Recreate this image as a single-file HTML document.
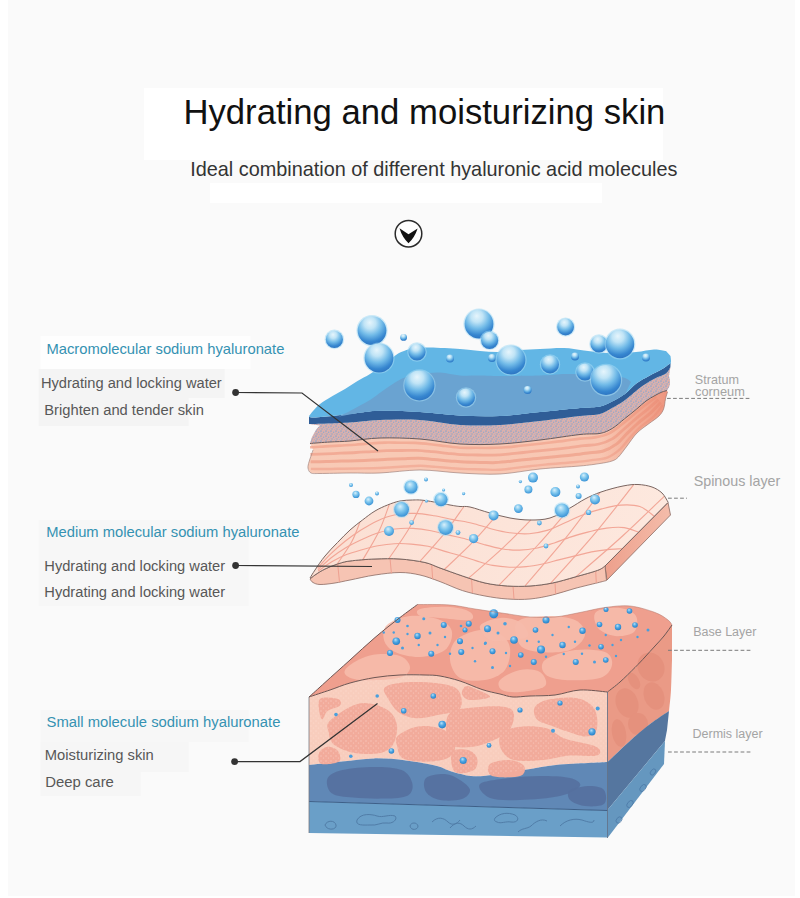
<!DOCTYPE html>
<html><head><meta charset="utf-8"><style>
html,body{margin:0;padding:0;background:#fafafa;}
body{width:800px;height:898px;overflow:hidden;position:relative;font-family:"Liberation Sans",sans-serif;}
svg{position:absolute;left:0;top:0;}
</style></head><body>
<svg width="800" height="898" viewBox="0 0 800 898" font-family="Liberation Sans, sans-serif">
<defs>
<radialGradient id="gb" cx="0.45" cy="0.28" r="0.82" fx="0.42" fy="0.22">
<stop offset="0" stop-color="#e6f5fc"/><stop offset="0.25" stop-color="#c0e4f6"/><stop offset="0.5" stop-color="#72bbe8"/><stop offset="0.75" stop-color="#3787d0"/><stop offset="1" stop-color="#2668b8"/>
</radialGradient>
<radialGradient id="gs" cx="0.45" cy="0.38" r="0.62" fx="0.4" fy="0.3">
<stop offset="0" stop-color="#d8f0fb"/><stop offset="0.5" stop-color="#7cc5ed"/><stop offset="1" stop-color="#3892d6"/>
</radialGradient>
<radialGradient id="gd" cx="0.45" cy="0.4" r="0.6" fx="0.4" fy="0.3">
<stop offset="0" stop-color="#b8e2f8"/><stop offset="0.5" stop-color="#4fa6e2"/><stop offset="1" stop-color="#2580c8"/>
</radialGradient>
<pattern id="dotP" width="5" height="5" patternUnits="userSpaceOnUse">
<circle cx="1" cy="1" r="0.7" fill="#fbe4da"/><circle cx="3.5" cy="3" r="0.6" fill="#fbe4da"/>
</pattern>
<linearGradient id="peachG" x1="0" y1="0" x2="1" y2="0">
<stop offset="0" stop-color="#f8cab6"/><stop offset="1" stop-color="#f8c6b2"/>
</linearGradient>
<linearGradient id="topG2" x1="0" y1="0" x2="1" y2="0">
<stop offset="0" stop-color="#fbdfd3"/><stop offset="1" stop-color="#fde8de"/>
</linearGradient>
<linearGradient id="sideG2" x1="0" y1="0" x2="1" y2="0">
<stop offset="0" stop-color="#eda08c"/><stop offset="1" stop-color="#f4bcaa"/>
</linearGradient>
<pattern id="speckP" width="5" height="5" patternUnits="userSpaceOnUse">
<circle cx="1" cy="1" r="0.85" fill="#8aa4cc"/><circle cx="3.6" cy="2.2" r="0.75" fill="#93a8cc"/><circle cx="2" cy="4" r="0.7" fill="#86a0c8"/><circle cx="4.4" cy="4.5" r="0.55" fill="#9fb0d0"/><circle cx="0.2" cy="3" r="0.5" fill="#a0b0cf"/>
</pattern>
<linearGradient id="peachR" x1="300" y1="0" x2="675" y2="0" gradientUnits="userSpaceOnUse">
<stop offset="0" stop-color="#ec8a70" stop-opacity="0"/><stop offset="0.8" stop-color="#ec8a70" stop-opacity="0"/><stop offset="0.9" stop-color="#ec8a70" stop-opacity="0.45"/><stop offset="1" stop-color="#e8806a" stop-opacity="0.8"/>
</linearGradient>
</defs>
<rect x="0" y="0" width="8" height="898" fill="#ffffff"/>
<rect x="795" y="0" width="5" height="898" fill="#ffffff"/>
<rect x="0" y="896" width="800" height="2" fill="#ffffff"/>
<rect x="144" y="88" width="519" height="72" fill="#ffffff"/>
<rect x="210" y="183" width="392" height="20" fill="#ffffff"/>
<rect x="40.6" y="336" width="210" height="33" fill="#fefefe"/>
<rect x="38.7" y="369" width="186" height="29" fill="#f4f4f4"/>
<rect x="38.7" y="398" width="150" height="28" fill="#f4f4f4"/>
<rect x="38.7" y="520" width="210" height="86" fill="#f7f7f7"/>
<rect x="40.6" y="710" width="208" height="32" fill="#f7f7f7"/>
<rect x="40.6" y="742" width="148" height="30" fill="#f6f6f6"/>
<rect x="40.6" y="772" width="100" height="24" fill="#f6f6f6"/>
<text x="183.4" y="123.6" font-size="34.7" fill="#111">Hydrating and moisturizing skin</text>
<text x="190.2" y="175.8" font-size="19.85" fill="#333">Ideal combination of different hyaluronic acid molecules</text>
<g>
<circle cx="408.5" cy="233.7" r="13.3" fill="#fdfdfd" stroke="#2a2a2a" stroke-width="1.5"/>
<path d="M399.5,228.2 L408.5,234.2 L417.6,228.4 Q414.8,237.2 408.5,243.2 Q402.2,237.2 399.5,228.2 Z" fill="#111"/>
</g>
<g>
<text x="46.4" y="354.3" font-size="14.78" fill="#3592b2">Macromolecular sodium hyaluronate</text>
<text x="40.9" y="387.6" font-size="14.67" fill="#585858">Hydrating and locking water</text>
<text x="44.3" y="414.7" font-size="14.72" fill="#585858">Brighten and tender skin</text>
<text x="46.2" y="537.3" font-size="14.76" fill="#3592b2">Medium molecular sodium hyaluronate</text>
<text x="44.3" y="570.8" font-size="14.67" fill="#585858">Hydrating and locking water</text>
<text x="44.3" y="596.8" font-size="14.67" fill="#585858">Hydrating and locking water</text>
<text x="46.6" y="727" font-size="14.82" fill="#3592b2">Small molecule sodium hyaluronate</text>
<text x="44.8" y="760" font-size="14.76" fill="#585858">Moisturizing skin</text>
<text x="45.2" y="787.2" font-size="14.9" fill="#585858">Deep care</text>
</g>
<g fill="#a4a4a4">
<text x="694.8" y="384.4" font-size="12.6">Stratum</text>
<text x="695.1" y="396.4" font-size="12.8">corneum</text>
<text x="693.7" y="486" font-size="14.3">Spinous layer</text>
<text x="693.2" y="635.6" font-size="12.5">Base Layer</text>
<text x="692.5" y="737.6" font-size="12.5">Dermis layer</text>
</g>
<path d="M310.0,443.5 C310.5,444.6 312.8,447.9 313.0,450.0 C313.2,452.1 311.7,454.0 311.0,456.0 C310.3,458.0 309.5,460.0 309.0,462.0 C308.5,464.0 307.7,466.2 308.0,468.0 C308.3,469.8 310.5,472.2 311.0,473.0 L320.0,473.5 C325.0,473.4 340.0,473.1 350.0,473.0 C360.0,472.9 368.3,473.5 380.0,473.0 C391.7,472.5 406.7,470.0 420.0,470.0 C433.3,470.0 446.7,472.3 460.0,473.0 C473.3,473.7 486.7,474.7 500.0,474.0 C513.3,473.3 526.7,470.3 540.0,469.0 C553.3,467.7 570.0,466.9 580.0,466.0 C590.0,465.1 594.7,464.3 600.0,463.5 C605.3,462.7 608.9,462.1 612.0,461.0 C615.1,459.9 615.9,459.5 618.4,457.0 C620.9,454.5 623.9,450.0 627.0,446.0 C630.1,442.0 633.3,436.7 637.0,433.0 C640.7,429.3 645.3,426.4 649.0,423.6 C652.7,420.8 656.6,418.4 659.0,416.0 C661.4,413.6 662.5,411.8 663.6,409.0 C664.7,406.2 664.9,401.8 665.5,399.0 C666.1,396.2 667.2,393.2 667.5,392.0 L667.0,390.5 C666.2,390.8 664.0,391.2 662.0,392.0 C660.0,392.8 657.7,394.0 655.0,395.5 C652.3,397.0 649.0,398.8 646.0,401.0 C643.0,403.2 640.3,406.0 636.7,409.0 C633.1,412.0 628.6,415.6 624.5,418.8 C620.4,422.1 616.3,426.1 612.2,428.5 C608.1,430.9 605.4,432.4 600.0,433.4 C594.6,434.4 590.0,433.4 580.0,434.5 C570.0,435.6 553.3,438.4 540.0,440.0 C526.7,441.6 513.3,443.3 500.0,444.0 C486.7,444.7 473.3,444.8 460.0,444.0 C446.7,443.2 433.3,440.0 420.0,439.0 C406.7,438.0 391.7,437.7 380.0,438.0 C368.3,438.3 358.3,440.3 350.0,441.0 C341.7,441.7 336.7,441.6 330.0,442.0 C323.3,442.4 313.3,443.2 310.0,443.5 Z" fill="url(#peachG)"/>
<path d="M310.1,447.3 C312.6,447.2 320.1,446.7 325.1,446.4 C330.2,446.1 335.2,445.9 340.2,445.6 C345.2,445.3 350.2,445.1 355.2,444.7 C360.2,444.4 365.2,443.8 370.2,443.5 C375.2,443.1 380.2,442.7 385.2,442.6 C390.2,442.4 395.2,442.7 400.2,442.7 C405.3,442.8 410.3,442.7 415.3,442.9 C420.3,443.2 425.3,443.7 430.3,444.2 C435.3,444.7 440.2,445.4 445.2,446.0 C450.2,446.6 455.2,447.4 460.2,447.7 C465.2,448.0 470.2,447.8 475.2,447.8 C480.2,447.9 485.3,448.0 490.3,447.9 C495.3,447.8 500.3,447.7 505.3,447.3 C510.3,447.0 515.3,446.3 520.3,445.8 C525.3,445.3 530.3,444.8 535.3,444.3 C540.3,443.7 545.2,443.2 550.2,442.5 C555.2,441.9 560.2,441.3 565.2,440.6 C570.1,440.0 575.1,439.1 580.1,438.6 C585.1,438.1 590.2,438.3 595.1,437.4 C599.9,436.5 604.8,435.4 609.2,433.3 C613.5,431.2 617.4,427.8 621.3,424.8 C625.3,421.8 629.0,418.4 632.9,415.2 C636.7,412.0 640.6,408.7 644.5,405.6 C648.4,402.6 654.5,398.3 656.4,396.8" fill="none" stroke="#f2a892" stroke-width="2.6" opacity="0.85"/>
<path d="M310.4,454.4 C312.9,454.3 320.5,454.1 325.6,453.9 C330.7,453.7 335.7,453.4 340.8,453.2 C345.9,453.0 351.0,452.8 356.1,452.5 C361.1,452.3 366.2,451.9 371.3,451.6 C376.3,451.3 381.4,450.9 386.5,450.7 C391.5,450.6 396.6,450.6 401.7,450.5 C406.8,450.5 411.9,450.2 416.9,450.4 C422.0,450.6 427.1,451.2 432.1,451.7 C437.2,452.1 442.2,452.8 447.3,453.3 C452.3,453.8 457.4,454.4 462.5,454.7 C467.5,455.0 472.6,454.9 477.7,455.0 C482.8,455.0 487.9,455.2 493.0,455.1 C498.0,455.0 503.1,454.6 508.2,454.1 C513.2,453.7 518.3,453.0 523.3,452.5 C528.4,451.9 533.4,451.5 538.5,450.9 C543.6,450.4 548.6,449.9 553.7,449.4 C558.7,448.8 563.8,448.3 568.8,447.7 C573.9,447.0 578.9,446.3 583.9,445.7 C589.0,445.1 594.3,445.2 599.1,444.0 C603.9,442.9 608.5,441.1 612.7,438.6 C616.9,436.1 620.3,432.3 624.1,429.0 C628.0,425.7 631.7,422.2 635.5,419.0 C639.4,415.7 643.5,412.6 647.4,409.4 C651.2,406.1 656.7,401.2 658.5,399.6" fill="none" stroke="#f1a690" stroke-width="2.8" opacity="0.85"/>
<path d="M310.6,461.8 C313.2,461.8 320.9,461.7 326.1,461.6 C331.2,461.5 336.4,461.3 341.5,461.1 C346.6,461.0 351.8,460.8 356.9,460.7 C362.1,460.5 367.2,460.3 372.4,460.1 C377.5,459.9 382.7,459.5 387.8,459.3 C392.9,459.1 398.1,458.9 403.2,458.7 C408.4,458.5 413.5,458.1 418.7,458.2 C423.8,458.4 428.9,459.0 434.1,459.5 C439.2,459.9 444.3,460.5 449.4,460.9 C454.6,461.3 459.7,461.8 464.8,462.1 C470.0,462.3 475.1,462.3 480.3,462.4 C485.4,462.4 490.6,462.8 495.7,462.6 C500.9,462.4 506.0,461.8 511.1,461.2 C516.2,460.7 521.4,460.0 526.5,459.5 C531.6,458.9 536.7,458.4 541.9,457.9 C547.0,457.4 552.1,457.0 557.2,456.5 C562.4,456.0 567.5,455.6 572.6,455.0 C577.7,454.4 582.9,453.7 588.0,453.0 C593.1,452.4 598.5,452.5 603.2,451.0 C608.0,449.5 612.4,447.0 616.4,444.1 C620.3,441.2 623.5,436.9 627.1,433.4 C630.8,429.8 634.4,426.2 638.3,422.8 C642.2,419.5 646.6,416.6 650.4,413.2 C654.1,409.8 659.0,404.2 660.7,402.4" fill="none" stroke="#f0a48e" stroke-width="3.0" opacity="0.85"/>
<path d="M310.9,468.9 C313.5,468.9 321.3,469.1 326.5,469.0 C331.7,469.0 336.9,468.8 342.1,468.7 C347.4,468.6 352.6,468.5 357.8,468.5 C363.0,468.4 368.2,468.4 373.4,468.2 C378.7,468.1 383.9,467.8 389.1,467.5 C394.3,467.2 399.5,466.8 404.7,466.5 C409.9,466.2 415.1,465.7 420.3,465.7 C425.5,465.8 430.7,466.5 435.9,466.9 C441.1,467.3 446.3,467.8 451.5,468.2 C456.7,468.6 461.9,468.9 467.1,469.1 C472.3,469.3 477.6,469.3 482.8,469.5 C488.0,469.6 493.2,470.0 498.4,469.8 C503.6,469.6 508.8,468.7 514.0,468.1 C519.2,467.5 524.3,466.8 529.5,466.2 C534.7,465.6 539.9,465.1 545.1,464.6 C550.3,464.1 555.5,463.7 560.7,463.3 C565.9,462.9 571.1,462.5 576.3,462.0 C581.5,461.5 586.7,460.8 591.8,460.1 C597.0,459.4 602.6,459.4 607.2,457.6 C611.9,455.8 616.1,452.7 619.9,449.4 C623.7,446.0 626.4,441.4 630.0,437.6 C633.5,433.8 637.0,430.0 640.9,426.6 C644.8,423.1 649.6,420.5 653.3,416.9 C656.9,413.4 661.2,407.1 662.8,405.1" fill="none" stroke="#f2ab96" stroke-width="2.4" opacity="0.85"/>
<path d="M310.0,443.5 C310.5,444.6 312.8,447.9 313.0,450.0 C313.2,452.1 311.7,454.0 311.0,456.0 C310.3,458.0 309.5,460.0 309.0,462.0 C308.5,464.0 307.7,466.2 308.0,468.0 C308.3,469.8 310.5,472.2 311.0,473.0 L320.0,473.5 C325.0,473.4 340.0,473.1 350.0,473.0 C360.0,472.9 368.3,473.5 380.0,473.0 C391.7,472.5 406.7,470.0 420.0,470.0 C433.3,470.0 446.7,472.3 460.0,473.0 C473.3,473.7 486.7,474.7 500.0,474.0 C513.3,473.3 526.7,470.3 540.0,469.0 C553.3,467.7 570.0,466.9 580.0,466.0 C590.0,465.1 594.7,464.3 600.0,463.5 C605.3,462.7 608.9,462.1 612.0,461.0 C615.1,459.9 615.9,459.5 618.4,457.0 C620.9,454.5 623.9,450.0 627.0,446.0 C630.1,442.0 633.3,436.7 637.0,433.0 C640.7,429.3 645.3,426.4 649.0,423.6 C652.7,420.8 656.6,418.4 659.0,416.0 C661.4,413.6 662.5,411.8 663.6,409.0 C664.7,406.2 664.9,401.8 665.5,399.0 C666.1,396.2 667.2,393.2 667.5,392.0 L667.0,390.5 C666.2,390.8 664.0,391.2 662.0,392.0 C660.0,392.8 657.7,394.0 655.0,395.5 C652.3,397.0 649.0,398.8 646.0,401.0 C643.0,403.2 640.3,406.0 636.7,409.0 C633.1,412.0 628.6,415.6 624.5,418.8 C620.4,422.1 616.3,426.1 612.2,428.5 C608.1,430.9 605.4,432.4 600.0,433.4 C594.6,434.4 590.0,433.4 580.0,434.5 C570.0,435.6 553.3,438.4 540.0,440.0 C526.7,441.6 513.3,443.3 500.0,444.0 C486.7,444.7 473.3,444.8 460.0,444.0 C446.7,443.2 433.3,440.0 420.0,439.0 C406.7,438.0 391.7,437.7 380.0,438.0 C368.3,438.3 358.3,440.3 350.0,441.0 C341.7,441.7 336.7,441.6 330.0,442.0 C323.3,442.4 313.3,443.2 310.0,443.5 Z" fill="url(#peachR)"/>
<path d="M313.0,450.0 C312.7,451.0 311.7,454.0 311.0,456.0 C310.3,458.0 309.5,460.0 309.0,462.0 C308.5,464.0 307.7,466.2 308.0,468.0 C308.3,469.8 309.0,472.1 311.0,473.0 C313.0,473.9 313.5,473.5 320.0,473.5 C326.5,473.5 340.0,473.1 350.0,473.0 C360.0,472.9 368.3,473.5 380.0,473.0 C391.7,472.5 406.7,470.0 420.0,470.0 C433.3,470.0 446.7,472.3 460.0,473.0 C473.3,473.7 486.7,474.7 500.0,474.0 C513.3,473.3 526.7,470.3 540.0,469.0 C553.3,467.7 570.0,466.9 580.0,466.0 C590.0,465.1 594.7,464.3 600.0,463.5 C605.3,462.7 608.9,462.1 612.0,461.0 C615.1,459.9 615.9,459.5 618.4,457.0 C620.9,454.5 623.9,450.0 627.0,446.0 C630.1,442.0 633.3,436.7 637.0,433.0 C640.7,429.3 645.3,426.4 649.0,423.6 C652.7,420.8 656.6,418.4 659.0,416.0 C661.4,413.6 662.5,411.8 663.6,409.0 C664.7,406.2 664.9,401.8 665.5,399.0 C666.1,396.2 667.2,393.2 667.5,392.0" fill="none" stroke="#9a7a74" stroke-width="0.8" opacity="0.8"/>
<path d="M309.0,424.0 C312.5,423.9 323.2,423.8 330.0,423.5 C336.8,423.2 341.7,423.1 350.0,422.5 C358.3,421.9 368.3,420.4 380.0,420.0 C391.7,419.6 406.7,419.2 420.0,420.0 C433.3,420.8 446.7,424.2 460.0,425.0 C473.3,425.8 486.7,425.7 500.0,425.0 C513.3,424.3 526.7,422.5 540.0,421.0 C553.3,419.5 570.0,417.2 580.0,416.0 C590.0,414.8 594.7,415.2 600.0,413.9 C605.3,412.6 607.9,410.2 612.0,408.0 C616.1,405.8 619.4,404.1 624.5,400.4 C629.6,396.7 637.7,389.4 642.8,385.7 C647.9,382.0 651.1,380.4 655.0,378.4 C658.9,376.4 663.4,375.4 666.0,373.5 C668.6,371.6 669.7,368.3 670.4,367.3 L669.0,376.0 C669.2,376.8 669.9,379.3 670.0,381.0 C670.1,382.7 670.0,384.4 669.5,386.0 C669.0,387.6 667.4,389.8 667.0,390.5 L662.0,392.0 C660.8,392.6 657.7,394.0 655.0,395.5 C652.3,397.0 649.0,398.8 646.0,401.0 C643.0,403.2 640.3,406.0 636.7,409.0 C633.1,412.0 628.6,415.6 624.5,418.8 C620.4,422.1 616.3,426.1 612.2,428.5 C608.1,430.9 605.4,432.4 600.0,433.4 C594.6,434.4 590.0,433.4 580.0,434.5 C570.0,435.6 553.3,438.4 540.0,440.0 C526.7,441.6 513.3,443.3 500.0,444.0 C486.7,444.7 473.3,444.8 460.0,444.0 C446.7,443.2 433.3,440.0 420.0,439.0 C406.7,438.0 391.7,437.7 380.0,438.0 C368.3,438.3 358.3,440.3 350.0,441.0 C341.7,441.7 336.7,441.6 330.0,442.0 C323.3,442.4 313.3,443.2 310.0,443.5 L312.0,437.0 C312.7,435.8 314.7,431.9 316.0,430.0 C317.3,428.1 319.3,426.2 320.0,425.5 Z" fill="#dcb0ab"/>
<path d="M309.0,424.0 C312.5,423.9 323.2,423.8 330.0,423.5 C336.8,423.2 341.7,423.1 350.0,422.5 C358.3,421.9 368.3,420.4 380.0,420.0 C391.7,419.6 406.7,419.2 420.0,420.0 C433.3,420.8 446.7,424.2 460.0,425.0 C473.3,425.8 486.7,425.7 500.0,425.0 C513.3,424.3 526.7,422.5 540.0,421.0 C553.3,419.5 570.0,417.2 580.0,416.0 C590.0,414.8 594.7,415.2 600.0,413.9 C605.3,412.6 607.9,410.2 612.0,408.0 C616.1,405.8 619.4,404.1 624.5,400.4 C629.6,396.7 637.7,389.4 642.8,385.7 C647.9,382.0 651.1,380.4 655.0,378.4 C658.9,376.4 663.4,375.4 666.0,373.5 C668.6,371.6 669.7,368.3 670.4,367.3 L669.0,376.0 C669.2,376.8 669.9,379.3 670.0,381.0 C670.1,382.7 670.0,384.4 669.5,386.0 C669.0,387.6 667.4,389.8 667.0,390.5 L662.0,392.0 C660.8,392.6 657.7,394.0 655.0,395.5 C652.3,397.0 649.0,398.8 646.0,401.0 C643.0,403.2 640.3,406.0 636.7,409.0 C633.1,412.0 628.6,415.6 624.5,418.8 C620.4,422.1 616.3,426.1 612.2,428.5 C608.1,430.9 605.4,432.4 600.0,433.4 C594.6,434.4 590.0,433.4 580.0,434.5 C570.0,435.6 553.3,438.4 540.0,440.0 C526.7,441.6 513.3,443.3 500.0,444.0 C486.7,444.7 473.3,444.8 460.0,444.0 C446.7,443.2 433.3,440.0 420.0,439.0 C406.7,438.0 391.7,437.7 380.0,438.0 C368.3,438.3 358.3,440.3 350.0,441.0 C341.7,441.7 336.7,441.6 330.0,442.0 C323.3,442.4 313.3,443.2 310.0,443.5 L312.0,437.0 C312.7,435.8 314.7,431.9 316.0,430.0 C317.3,428.1 319.3,426.2 320.0,425.5 Z" fill="url(#speckP)"/>
<path d="M310.0,443.5 C313.3,443.2 323.3,442.4 330.0,442.0 C336.7,441.6 341.7,441.7 350.0,441.0 C358.3,440.3 368.3,438.3 380.0,438.0 C391.7,437.7 406.7,438.0 420.0,439.0 C433.3,440.0 446.7,443.2 460.0,444.0 C473.3,444.8 486.7,444.7 500.0,444.0 C513.3,443.3 526.7,441.6 540.0,440.0 C553.3,438.4 570.0,435.6 580.0,434.5 C590.0,433.4 594.6,434.4 600.0,433.4 C605.4,432.4 608.1,430.9 612.2,428.5 C616.3,426.1 620.4,422.1 624.5,418.8 C628.6,415.6 633.1,412.0 636.7,409.0 C640.3,406.0 643.0,403.2 646.0,401.0 C649.0,398.8 652.3,397.0 655.0,395.5 C657.7,394.0 660.0,392.8 662.0,392.0 C664.0,391.2 666.2,390.8 667.0,390.5" fill="none" stroke="#6b5a5a" stroke-width="1"/>
<path d="M309.0,416.0 C309.5,416.2 308.1,417.5 312.0,417.5 C315.9,417.5 324.9,416.8 332.5,416.0 C340.1,415.2 349.2,413.9 357.5,413.0 C365.8,412.1 372.1,410.8 382.5,410.6 C392.9,410.4 407.1,411.2 420.0,412.0 C432.9,412.8 446.7,414.9 460.0,415.6 C473.3,416.3 486.7,416.6 500.0,416.0 C513.3,415.4 526.7,413.3 540.0,412.0 C553.3,410.7 570.0,408.9 580.0,408.0 C590.0,407.1 594.7,407.6 600.0,406.5 C605.3,405.4 607.9,403.5 612.0,401.5 C616.1,399.5 620.4,397.3 624.5,394.3 C628.6,391.3 632.6,386.4 636.7,383.3 C640.8,380.2 645.0,378.2 649.0,376.0 C653.0,373.8 657.5,371.9 661.0,369.8 C664.5,367.8 668.2,364.7 669.8,363.7 C671.4,362.7 670.4,363.9 670.5,364.0 L670.4,367.3 C669.7,368.3 668.6,371.6 666.0,373.5 C663.4,375.4 658.9,376.4 655.0,378.4 C651.1,380.4 647.9,382.0 642.8,385.7 C637.7,389.4 629.6,396.7 624.5,400.4 C619.4,404.1 616.1,405.8 612.0,408.0 C607.9,410.2 605.3,412.6 600.0,413.9 C594.7,415.2 590.0,414.8 580.0,416.0 C570.0,417.2 553.3,419.5 540.0,421.0 C526.7,422.5 513.3,424.3 500.0,425.0 C486.7,425.7 473.3,425.8 460.0,425.0 C446.7,424.2 433.3,420.8 420.0,420.0 C406.7,419.2 391.7,419.6 380.0,420.0 C368.3,420.4 358.3,421.9 350.0,422.5 C341.7,423.1 336.8,423.2 330.0,423.5 C323.2,423.8 312.5,423.9 309.0,424.0 Z" fill="#2f5d97"/>
<path d="M309.0,416.0 C309.7,415.2 311.2,413.0 313.0,411.0 C314.8,409.0 316.8,406.5 320.0,404.0 C323.2,401.5 328.3,398.5 332.5,396.0 C336.7,393.5 340.8,391.5 345.0,389.0 C349.2,386.5 353.3,383.5 357.5,381.0 C361.7,378.5 365.6,376.8 370.0,374.0 C374.4,371.2 379.7,367.2 384.0,364.0 C388.3,360.8 392.7,357.2 396.0,355.0 C399.3,352.8 400.8,352.2 404.0,351.0 C407.2,349.8 410.7,348.6 415.0,348.0 C419.3,347.4 422.5,347.3 430.0,347.5 C437.5,347.7 451.7,348.4 460.0,349.0 C468.3,349.6 473.3,350.5 480.0,351.0 C486.7,351.5 493.3,352.2 500.0,352.0 C506.7,351.8 513.3,350.5 520.0,350.0 C526.7,349.5 532.7,349.3 540.0,349.0 C547.3,348.7 556.7,347.8 564.0,348.0 C571.3,348.2 576.3,349.7 584.0,350.5 C591.7,351.3 601.3,352.8 610.0,353.0 C618.7,353.2 628.7,352.6 636.0,352.0 C643.3,351.4 649.0,349.7 654.0,349.5 C659.0,349.3 664.0,350.8 666.0,351.0 L670.5,356.0 C670.6,356.8 671.0,359.7 671.0,361.0 C671.0,362.3 670.6,363.5 670.5,364.0 L669.8,363.7 C668.3,364.7 664.5,367.8 661.0,369.8 C657.5,371.9 653.0,373.8 649.0,376.0 C645.0,378.2 640.8,380.2 636.7,383.3 C632.6,386.4 628.6,391.3 624.5,394.3 C620.4,397.3 616.1,399.5 612.0,401.5 C607.9,403.5 605.3,405.4 600.0,406.5 C594.7,407.6 590.0,407.1 580.0,408.0 C570.0,408.9 553.3,410.7 540.0,412.0 C526.7,413.3 513.3,415.4 500.0,416.0 C486.7,416.6 473.3,416.3 460.0,415.6 C446.7,414.9 432.9,412.8 420.0,412.0 C407.1,411.2 392.9,410.4 382.5,410.6 C372.1,410.8 365.8,412.1 357.5,413.0 C349.2,413.9 340.1,415.2 332.5,416.0 C324.9,416.8 315.9,417.5 312.0,417.5 C308.1,417.5 309.5,416.2 309.0,416.0 Z" fill="#62b6e5"/>
<path d="M339.0,416.5 C340.8,415.6 346.5,412.8 350.0,411.0 C353.5,409.2 356.7,407.3 360.0,405.5 C363.3,403.7 366.2,402.4 370.0,400.0 C373.8,397.6 378.3,393.9 382.5,391.0 C386.7,388.1 391.2,384.8 395.0,382.5 C398.8,380.2 400.8,378.9 405.0,377.5 C409.2,376.1 414.2,374.8 420.0,374.0 C425.8,373.2 433.3,372.2 440.0,372.5 C446.7,372.8 453.3,375.0 460.0,375.5 C466.7,376.0 473.3,375.4 480.0,375.5 C486.7,375.6 490.0,376.0 500.0,376.0 C510.0,376.0 529.0,375.8 540.0,375.5 C551.0,375.2 557.3,374.1 566.0,374.0 C574.7,373.9 584.3,374.7 592.0,375.0 C599.7,375.3 606.5,375.5 612.0,376.0 C617.5,376.5 621.8,377.0 625.0,378.0 C628.2,379.0 630.0,381.3 631.0,382.0 L627.0,390.0 C626.6,390.7 627.0,392.4 624.5,394.3 C622.0,396.2 616.1,399.5 612.0,401.5 C607.9,403.5 605.3,405.4 600.0,406.5 C594.7,407.6 590.0,407.1 580.0,408.0 C570.0,408.9 553.3,410.7 540.0,412.0 C526.7,413.3 513.3,415.4 500.0,416.0 C486.7,416.6 473.3,416.3 460.0,415.6 C446.7,414.9 432.9,412.8 420.0,412.0 C407.1,411.2 392.9,410.4 382.5,410.6 C372.1,410.8 361.7,412.6 357.5,413.0 Z" fill="#6aa3d1"/>
<circle cx="334.4" cy="339.4" r="9.8" fill="#a4daf4" opacity="0.55"/><circle cx="334.4" cy="339.4" r="8.6" fill="url(#gb)"/>
<circle cx="372" cy="330.6" r="15.6" fill="#a4daf4" opacity="0.55"/><circle cx="372" cy="330.6" r="14.4" fill="url(#gb)"/>
<circle cx="379" cy="358" r="15.6" fill="#a4daf4" opacity="0.55"/><circle cx="379" cy="358" r="14.4" fill="url(#gb)"/>
<circle cx="403.6" cy="337.4" r="3.4" fill="url(#gb)"/>
<circle cx="417" cy="352" r="9.8" fill="#a4daf4" opacity="0.55"/><circle cx="417" cy="352" r="8.6" fill="url(#gb)"/>
<circle cx="450" cy="358.6" r="4" fill="url(#gb)"/>
<circle cx="419.4" cy="385.4" r="16.2" fill="#a4daf4" opacity="0.55"/><circle cx="419.4" cy="385.4" r="15" fill="url(#gb)"/>
<circle cx="466" cy="397.5" r="10.2" fill="#a4daf4" opacity="0.55"/><circle cx="466" cy="397.5" r="9" fill="url(#gb)"/>
<circle cx="479" cy="324" r="15.6" fill="#a4daf4" opacity="0.55"/><circle cx="479" cy="324" r="14.4" fill="url(#gb)"/>
<circle cx="489.6" cy="340.4" r="9.8" fill="#a4daf4" opacity="0.55"/><circle cx="489.6" cy="340.4" r="8.6" fill="url(#gb)"/>
<circle cx="492" cy="358" r="4" fill="url(#gb)"/>
<circle cx="511" cy="360" r="15.6" fill="#a4daf4" opacity="0.55"/><circle cx="511" cy="360" r="14.4" fill="url(#gb)"/>
<circle cx="550" cy="364.4" r="10.2" fill="#a4daf4" opacity="0.55"/><circle cx="550" cy="364.4" r="9" fill="url(#gb)"/>
<circle cx="565.6" cy="327" r="9.6" fill="#a4daf4" opacity="0.55"/><circle cx="565.6" cy="327" r="8.4" fill="url(#gb)"/>
<circle cx="575" cy="356.4" r="4" fill="url(#gb)"/>
<circle cx="585" cy="372" r="9.8" fill="#a4daf4" opacity="0.55"/><circle cx="585" cy="372" r="8.6" fill="url(#gb)"/>
<circle cx="599" cy="344" r="9.8" fill="#a4daf4" opacity="0.55"/><circle cx="599" cy="344" r="8.6" fill="url(#gb)"/>
<circle cx="620" cy="344" r="15.4" fill="#a4daf4" opacity="0.55"/><circle cx="620" cy="344" r="14.2" fill="url(#gb)"/>
<circle cx="606" cy="380" r="16.2" fill="#a4daf4" opacity="0.55"/><circle cx="606" cy="380" r="15" fill="url(#gb)"/>
<circle cx="527.6" cy="390" r="4" fill="url(#gb)"/>
<circle cx="646" cy="357.5" r="4" fill="url(#gb)"/>
<path d="M605,566 L668,502.5 L670.5,515 L607,580 Z" fill="url(#sideG2)" stroke="#8a6a62" stroke-width="0.8"/>
<path d="M310.0,579.0 C310.5,579.6 311.3,581.6 313.0,582.5 C314.7,583.4 316.3,584.4 320.0,584.5 C323.7,584.6 330.0,583.8 335.0,583.0 C340.0,582.2 343.3,581.3 350.0,580.0 C356.7,578.7 366.7,576.2 375.0,575.0 C383.3,573.8 392.5,572.5 400.0,572.5 C407.5,572.5 413.3,573.5 420.0,575.0 C426.7,576.5 432.9,579.0 440.0,581.6 C447.1,584.2 455.0,588.2 462.5,590.6 C470.0,593.0 477.5,594.6 485.0,596.0 C492.5,597.4 500.0,598.5 507.5,599.0 C515.0,599.5 522.5,599.7 530.0,599.0 C537.5,598.3 545.0,596.8 552.5,595.0 C560.0,593.2 567.5,590.4 575.0,588.4 C582.5,586.4 592.2,584.1 597.5,582.8 C602.8,581.5 605.0,580.9 606.5,580.5 L605.0,566.0 C603.8,566.7 602.5,568.6 597.5,570.4 C592.5,572.2 582.5,574.9 575.0,577.0 C567.5,579.1 560.0,581.5 552.5,583.0 C545.0,584.5 537.5,585.5 530.0,586.0 C522.5,586.5 515.0,586.5 507.5,586.0 C500.0,585.5 492.5,584.7 485.0,583.0 C477.5,581.3 470.0,578.5 462.5,576.0 C455.0,573.5 446.2,570.2 440.0,568.0 C433.8,565.8 431.7,564.0 425.0,562.5 C418.3,561.0 408.3,559.6 400.0,559.0 C391.7,558.4 383.3,558.7 375.0,559.0 C366.7,559.3 356.2,560.2 350.0,561.0 C343.8,561.8 341.7,562.7 337.5,564.0 C333.3,565.3 328.8,567.2 325.0,569.0 C321.2,570.8 317.5,573.3 315.0,575.0 C312.5,576.7 310.8,578.3 310.0,579.0 Z" fill="#f6c4b3" stroke="#8a6a62" stroke-width="0.8"/>
<path d="M310.0,578.0 C310.8,576.7 312.5,573.7 315.0,570.0 C317.5,566.3 321.2,560.6 325.0,556.0 C328.8,551.4 333.3,546.8 337.5,542.5 C341.7,538.2 345.8,533.8 350.0,530.0 C354.2,526.2 358.3,523.2 362.5,520.0 C366.7,516.8 370.8,513.5 375.0,511.0 C379.2,508.5 383.3,506.7 387.5,505.0 C391.7,503.3 395.8,501.8 400.0,501.0 C404.2,500.2 408.3,500.1 412.5,500.0 C416.7,499.9 418.8,499.7 425.0,500.5 C431.2,501.3 444.2,504.0 450.0,505.0 C455.8,506.0 456.7,506.2 460.0,506.5 C463.3,506.8 465.0,505.9 470.0,507.0 C475.0,508.1 483.3,511.2 490.0,513.0 C496.7,514.8 503.3,516.8 510.0,518.0 C516.7,519.2 523.3,520.0 530.0,520.0 C536.7,520.0 543.3,520.0 550.0,518.0 C556.7,516.0 564.2,511.2 570.0,508.0 C575.8,504.8 579.8,501.7 585.0,499.0 C590.2,496.3 594.7,494.2 601.0,492.0 C607.3,489.8 616.8,487.2 623.0,486.0 C629.2,484.8 633.2,484.3 638.0,484.5 C642.8,484.7 648.0,485.6 652.0,487.0 C656.0,488.4 659.3,490.5 662.0,493.0 C664.7,495.5 667.0,500.5 668.0,502.0 L605.0,566.0 C603.8,566.7 602.5,568.6 597.5,570.4 C592.5,572.2 582.5,574.9 575.0,577.0 C567.5,579.1 560.0,581.5 552.5,583.0 C545.0,584.5 537.5,585.5 530.0,586.0 C522.5,586.5 515.0,586.5 507.5,586.0 C500.0,585.5 492.5,584.7 485.0,583.0 C477.5,581.3 470.0,578.5 462.5,576.0 C455.0,573.5 446.2,570.2 440.0,568.0 C433.8,565.8 431.7,564.0 425.0,562.5 C418.3,561.0 408.3,559.6 400.0,559.0 C391.7,558.4 383.3,558.7 375.0,559.0 C366.7,559.3 356.2,560.2 350.0,561.0 C343.8,561.8 341.7,562.7 337.5,564.0 C333.3,565.3 328.8,567.2 325.0,569.0 C321.2,570.8 317.5,573.3 315.0,575.0 C312.5,576.7 310.8,578.3 310.0,579.0 Z" fill="url(#topG2)"/>
<g fill="none" stroke="#f2a090" stroke-width="1.1" opacity="0.9"><path d="M317.7,567.9 C319.9,565.6 326.1,558.2 330.7,553.8 C335.3,549.4 340.1,545.2 345.1,541.2 C350.1,537.3 355.3,533.7 360.6,530.3 C366.0,526.9 371.4,523.5 377.2,520.9 C383.0,518.3 389.2,516.0 395.4,514.8 C401.7,513.5 408.3,513.2 414.7,513.4 C421.1,513.5 427.6,514.7 434.0,515.8 C440.4,516.8 446.7,518.4 453.1,519.6 C459.4,520.9 465.8,521.7 472.1,523.2 C478.4,524.7 484.5,527.1 490.8,528.7 C497.1,530.3 503.4,531.9 509.8,532.8 C516.2,533.6 522.9,534.1 529.2,533.7 C535.6,533.2 541.9,531.9 548.0,530.1 C554.0,528.2 559.7,525.1 565.6,522.5 C571.5,520.0 577.2,516.9 583.2,514.7 C589.2,512.4 595.5,510.5 601.8,508.9 C608.0,507.3 614.5,505.5 620.8,505.1 C627.2,504.7 634.3,504.7 639.8,506.5 C645.4,508.3 651.8,514.5 654.1,516.1"/><path d="M317.9,569.5 C320.1,567.6 326.6,561.4 331.2,557.7 C335.9,554.1 340.8,550.8 345.8,547.8 C350.8,544.8 356.0,542.3 361.3,539.8 C366.6,537.4 371.9,534.9 377.5,533.1 C383.1,531.3 389.0,529.7 394.9,529.0 C400.8,528.2 407.0,528.1 413.0,528.4 C419.0,528.7 425.1,529.6 431.1,530.7 C437.0,531.8 442.8,533.7 448.7,535.1 C454.6,536.5 460.5,537.6 466.3,539.2 C472.2,540.7 477.9,542.9 483.8,544.5 C489.6,546.1 495.5,547.8 501.5,548.7 C507.4,549.7 513.6,550.2 519.6,550.1 C525.5,550.0 531.5,549.2 537.3,548.0 C543.1,546.8 548.6,544.7 554.3,542.9 C559.9,541.0 565.4,538.7 571.2,536.9 C576.9,535.0 582.8,533.4 588.7,531.9 C594.5,530.5 600.5,528.8 606.5,528.1 C612.4,527.4 618.8,527.0 624.1,527.6 C629.5,528.3 636.0,531.3 638.4,532.1"/><path d="M318.2,571.2 C320.4,569.6 327.0,564.6 331.8,561.8 C336.5,559.1 341.5,556.6 346.5,554.6 C351.5,552.6 356.8,551.2 362.0,549.7 C367.2,548.3 372.5,546.8 377.9,545.8 C383.3,544.8 388.8,544.0 394.4,543.7 C399.9,543.4 405.6,543.6 411.2,544.1 C416.8,544.5 422.5,545.1 428.0,546.3 C433.5,547.5 438.7,549.5 444.1,551.1 C449.5,552.7 454.9,554.1 460.3,555.8 C465.7,557.4 471.1,559.3 476.5,560.9 C481.9,562.5 487.3,564.3 492.8,565.4 C498.3,566.4 504.0,566.9 509.5,567.2 C515.1,567.4 520.7,567.2 526.2,566.6 C531.7,566.1 537.0,565.1 542.5,564.0 C547.9,562.9 553.2,561.3 558.7,559.9 C564.1,558.6 569.6,557.2 575.0,555.9 C580.5,554.6 586.0,553.0 591.5,551.9 C596.9,550.9 602.7,550.1 607.8,549.6 C612.9,549.0 619.6,548.9 622.0,548.7"/><path d="M360.0,522.0 C358.6,525.3 355.4,535.0 351.6,542.1 C347.8,549.1 339.6,560.5 337.2,564.1"/><path d="M389.3,504.4 C387.6,508.9 383.5,521.9 379.0,531.2 C374.6,540.5 365.4,555.2 362.7,560.0"/><path d="M423.1,500.4 C420.7,505.1 414.6,518.9 408.9,528.7 C403.1,538.5 392.0,554.0 388.6,559.0"/><path d="M463.8,506.7 C460.6,511.1 452.1,524.0 444.7,533.2 C437.3,542.4 423.8,557.0 419.6,561.7"/><path d="M497.0,514.8 C493.1,519.2 482.4,532.0 473.7,541.1 C464.9,550.3 449.2,564.8 444.3,569.5"/><path d="M530.9,519.9 C526.2,524.6 513.2,538.3 502.9,547.9 C492.5,557.6 474.5,573.0 468.8,578.0"/><path d="M569.7,508.2 C564.3,514.4 549.2,532.7 537.4,545.5 C525.6,558.3 505.5,578.3 499.1,584.9"/><path d="M600.1,492.4 C594.3,500.0 578.1,522.6 565.6,538.2 C553.0,553.8 531.8,578.0 525.0,586.0"/><path d="M633.5,484.9 C627.1,493.0 608.9,516.7 595.2,533.1 C581.4,549.5 558.2,574.9 550.8,583.2"/><path d="M664.2,496.3 C657.3,502.8 637.8,522.1 623.1,535.5 C608.4,548.9 583.8,569.9 575.9,576.7"/></g>
<g fill="none" stroke="#eea090" stroke-width="1"><path d="M337.7,564.0 L339.5,582.1"/><path d="M390.1,559.0 L391.4,573.4"/><path d="M431.7,564.9 L432.7,579.2"/><path d="M471.6,578.8 L472.4,593.0"/><path d="M513.0,586.0 L514.0,599.0"/><path d="M555.0,582.3 L555.6,594.1"/><path d="M595.7,570.9 L596.3,583.1"/></g>
<path d="M310.0,578.0 C310.8,576.7 312.5,573.7 315.0,570.0 C317.5,566.3 321.2,560.6 325.0,556.0 C328.8,551.4 333.3,546.8 337.5,542.5 C341.7,538.2 345.8,533.8 350.0,530.0 C354.2,526.2 358.3,523.2 362.5,520.0 C366.7,516.8 370.8,513.5 375.0,511.0 C379.2,508.5 383.3,506.7 387.5,505.0 C391.7,503.3 395.8,501.8 400.0,501.0 C404.2,500.2 408.3,500.1 412.5,500.0 C416.7,499.9 418.8,499.7 425.0,500.5 C431.2,501.3 444.2,504.0 450.0,505.0 C455.8,506.0 456.7,506.2 460.0,506.5 C463.3,506.8 465.0,505.9 470.0,507.0 C475.0,508.1 483.3,511.2 490.0,513.0 C496.7,514.8 503.3,516.8 510.0,518.0 C516.7,519.2 523.3,520.0 530.0,520.0 C536.7,520.0 543.3,520.0 550.0,518.0 C556.7,516.0 564.2,511.2 570.0,508.0 C575.8,504.8 579.8,501.7 585.0,499.0 C590.2,496.3 594.7,494.2 601.0,492.0 C607.3,489.8 616.8,487.2 623.0,486.0 C629.2,484.8 633.2,484.3 638.0,484.5 C642.8,484.7 648.0,485.6 652.0,487.0 C656.0,488.4 659.3,490.5 662.0,493.0 C664.7,495.5 667.0,500.5 668.0,502.0" fill="none" stroke="#7a6560" stroke-width="1"/>
<path d="M605.0,566.0 C603.8,566.7 602.5,568.6 597.5,570.4 C592.5,572.2 582.5,574.9 575.0,577.0 C567.5,579.1 560.0,581.5 552.5,583.0 C545.0,584.5 537.5,585.5 530.0,586.0 C522.5,586.5 515.0,586.5 507.5,586.0 C500.0,585.5 492.5,584.7 485.0,583.0 C477.5,581.3 470.0,578.5 462.5,576.0 C455.0,573.5 446.2,570.2 440.0,568.0 C433.8,565.8 431.7,564.0 425.0,562.5 C418.3,561.0 408.3,559.6 400.0,559.0 C391.7,558.4 383.3,558.7 375.0,559.0 C366.7,559.3 356.2,560.2 350.0,561.0 C343.8,561.8 341.7,562.7 337.5,564.0 C333.3,565.3 328.8,567.2 325.0,569.0 C321.2,570.8 317.5,573.3 315.0,575.0 C312.5,576.7 310.8,578.3 310.0,579.0" fill="none" stroke="#7a6560" stroke-width="1"/>
<path d="M605,566 L668,502.5" fill="none" stroke="#7a6560" stroke-width="1"/>
<circle cx="351" cy="485" r="2" fill="url(#gs)"/>
<circle cx="356" cy="494.4" r="3.6" fill="url(#gs)"/>
<circle cx="369" cy="501" r="4.4" fill="url(#gs)"/>
<circle cx="377" cy="493.4" r="2" fill="url(#gs)"/>
<circle cx="411" cy="487" r="7.8" fill="#a4daf4" opacity="0.55"/><circle cx="411" cy="487" r="6.6" fill="url(#gs)"/>
<circle cx="426" cy="479.4" r="2" fill="url(#gs)"/>
<circle cx="443.6" cy="490" r="1.6" fill="url(#gs)"/>
<circle cx="441" cy="499.6" r="7.8" fill="#a4daf4" opacity="0.55"/><circle cx="441" cy="499.6" r="6.6" fill="url(#gs)"/>
<circle cx="426.4" cy="501" r="1.6" fill="url(#gs)"/>
<circle cx="401.6" cy="509.4" r="8.6" fill="#a4daf4" opacity="0.55"/><circle cx="401.6" cy="509.4" r="7.4" fill="url(#gs)"/>
<circle cx="411.6" cy="522.6" r="2.4" fill="url(#gs)"/>
<circle cx="389" cy="531" r="5" fill="url(#gs)"/>
<circle cx="445.6" cy="527.6" r="8.6" fill="#a4daf4" opacity="0.55"/><circle cx="445.6" cy="527.6" r="7.4" fill="url(#gs)"/>
<circle cx="458" cy="532.6" r="2.4" fill="url(#gs)"/>
<circle cx="463.6" cy="493.6" r="1.6" fill="url(#gs)"/>
<circle cx="520.4" cy="481.6" r="1.6" fill="url(#gs)"/>
<circle cx="533" cy="477.6" r="5" fill="url(#gs)"/>
<circle cx="528.4" cy="489.6" r="4" fill="url(#gs)"/>
<circle cx="518.4" cy="508.6" r="4.4" fill="url(#gs)"/>
<circle cx="493.6" cy="515.4" r="5" fill="url(#gs)"/>
<circle cx="555.4" cy="492" r="5" fill="url(#gs)"/>
<circle cx="562" cy="510.4" r="8.2" fill="#a4daf4" opacity="0.55"/><circle cx="562" cy="510.4" r="7" fill="url(#gs)"/>
<circle cx="584.4" cy="477" r="4.6" fill="url(#gs)"/>
<circle cx="578" cy="486.4" r="2" fill="url(#gs)"/>
<circle cx="578.6" cy="496" r="3" fill="url(#gs)"/>
<circle cx="595" cy="499.4" r="5" fill="url(#gs)"/>
<circle cx="588.6" cy="512.4" r="2.6" fill="url(#gs)"/>
<circle cx="539.4" cy="523" r="2.4" fill="url(#gs)"/>
<circle cx="473.6" cy="538.6" r="4.6" fill="url(#gs)"/>
<circle cx="546" cy="546" r="2.4" fill="url(#gs)"/>
<path d="M417.5,604.5 C422.9,604.6 440.4,604.2 450.0,605.0 C459.6,605.8 465.8,607.6 475.0,609.0 C484.2,610.4 495.8,612.2 505.0,613.5 C514.2,614.8 521.7,616.4 530.0,617.0 C538.3,617.6 546.7,617.8 555.0,617.0 C563.3,616.2 571.7,614.1 580.0,612.5 C588.3,610.9 596.7,608.6 605.0,607.5 C613.3,606.4 621.7,605.2 630.0,606.0 C638.3,606.8 648.7,610.2 655.0,612.5 C661.3,614.8 665.2,617.9 668.0,620.0 C670.8,622.1 671.3,624.2 672.0,625.0 L664.0,636.0 C662.5,637.7 658.2,642.5 655.0,646.0 C651.8,649.5 648.3,653.4 645.0,657.0 C641.7,660.6 639.2,663.3 635.0,667.5 C630.8,671.7 624.6,677.9 620.0,682.0 C615.4,686.1 609.6,690.3 607.5,692.0 L580.0,690.0 C575.8,690.8 563.3,694.0 555.0,695.0 C546.7,696.0 537.0,695.7 530.0,696.0 C523.0,696.3 518.0,697.3 513.0,697.0 C508.0,696.7 505.2,695.2 500.0,694.0 C494.8,692.8 488.7,691.7 482.0,689.5 C475.3,687.3 467.0,683.2 460.0,681.0 C453.0,678.8 445.8,677.0 440.0,676.0 C434.2,675.0 431.7,675.2 425.0,675.0 C418.3,674.8 408.3,674.6 400.0,675.0 C391.7,675.4 383.3,676.2 375.0,677.5 C366.7,678.8 357.5,680.9 350.0,683.0 C342.5,685.1 336.8,687.7 330.0,690.0 C323.2,692.3 312.5,695.8 309.0,697.0 L325.0,682.5 C329.2,678.8 341.7,667.5 350.0,660.0 C358.3,652.5 366.7,644.6 375.0,637.5 C383.3,630.4 392.9,623.0 400.0,617.5 C407.1,612.0 414.6,606.7 417.5,604.5 Z" fill="#ef9f8e"/>
<path d="M309.0,697.0 C312.5,695.8 323.2,692.3 330.0,690.0 C336.8,687.7 342.5,685.1 350.0,683.0 C357.5,680.9 366.7,678.8 375.0,677.5 C383.3,676.2 391.7,675.4 400.0,675.0 C408.3,674.6 418.3,674.8 425.0,675.0 C431.7,675.2 434.2,675.0 440.0,676.0 C445.8,677.0 453.0,678.8 460.0,681.0 C467.0,683.2 475.3,687.3 482.0,689.5 C488.7,691.7 494.8,692.8 500.0,694.0 C505.2,695.2 508.0,696.7 513.0,697.0 C518.0,697.3 523.0,696.3 530.0,696.0 C537.0,695.7 546.7,696.0 555.0,695.0 C563.3,694.0 571.2,690.5 580.0,690.0 C588.8,689.5 602.9,691.7 607.5,692.0 L607.5,762.0 L588.0,763.0 C582.7,763.3 566.7,763.8 556.0,765.0 C545.3,766.2 534.7,768.3 524.0,770.0 C513.3,771.7 500.8,774.0 492.0,775.0 C483.2,776.0 478.0,776.7 471.0,776.0 C464.0,775.3 455.7,772.7 450.0,771.0 C444.3,769.3 444.3,767.8 437.0,766.0 C429.7,764.2 416.5,761.8 406.0,760.5 C395.5,759.2 384.7,758.2 374.0,758.4 C363.3,758.6 352.8,760.5 342.0,761.6 C331.2,762.7 314.5,764.4 309.0,765.0 Z" fill="#f8cdbd"/>
<path d="M309.0,765.0 C314.5,764.4 331.2,762.7 342.0,761.6 C352.8,760.5 363.3,758.6 374.0,758.4 C384.7,758.2 395.5,759.2 406.0,760.5 C416.5,761.8 429.7,764.2 437.0,766.0 C444.3,767.8 444.3,769.3 450.0,771.0 C455.7,772.7 464.0,775.3 471.0,776.0 C478.0,776.7 483.2,776.0 492.0,775.0 C500.8,774.0 513.3,771.7 524.0,770.0 C534.7,768.3 545.3,766.2 556.0,765.0 C566.7,763.8 579.4,763.5 588.0,763.0 C596.6,762.5 604.2,762.2 607.5,762.0 L607.5,810.5 L309.0,801.5 Z" fill="#6088b6"/>
<path d="M309,801.5 L607.5,810.5 L607.5,837.5 L309,833 Z" fill="#6a9fc8"/>
<path d="M309,801.5 L607.5,810.5" stroke="#3d5f88" stroke-width="1" fill="none"/>
<path d="M607.5,692.0 C609.6,690.3 615.4,686.1 620.0,682.0 C624.6,677.9 630.8,671.7 635.0,667.5 C639.2,663.3 641.7,660.6 645.0,657.0 C648.3,653.4 651.8,649.5 655.0,646.0 C658.2,642.5 661.2,639.5 664.0,636.0 C666.8,632.5 670.7,626.8 672.0,625.0 L672.0,660.0 C671.8,665.0 671.5,681.5 671.0,690.0 C670.5,698.5 669.3,707.5 669.0,711.0 L650.0,724.0 C647.0,726.5 639.1,732.7 632.0,739.0 C624.9,745.3 611.6,758.2 607.5,762.0 Z" fill="#ea9a86"/>
<g fill="#e28a76" opacity="0.55"><ellipse cx="651" cy="667" rx="13" ry="15" transform="rotate(-30 651 667)"/><ellipse cx="627" cy="703" rx="11" ry="15" transform="rotate(-20 627 703)"/><ellipse cx="654" cy="696" rx="10" ry="14" transform="rotate(-20 654 696)"/><ellipse cx="619" cy="733" rx="7" ry="14" transform="rotate(-10 619 733)"/><ellipse cx="638" cy="724" rx="10" ry="11"/><ellipse cx="634" cy="681" rx="5" ry="9" transform="rotate(-30 634 681)"/></g>
<path d="M607.5,762.0 C611.6,758.2 624.9,745.3 632.0,739.0 C639.1,732.7 643.8,728.7 650.0,724.0 C656.2,719.3 665.8,713.2 669.0,711.0 L667.0,730.0 C666.7,731.8 665.3,739.2 665.0,741.0 L607.5,810.0 Z" fill="#55769f"/>
<path d="M607.5,810 L665,741 L664,764 L607.5,838 Z" fill="#6597bf"/>
<path d="M320.0,699.0 C323.0,696.3 334.7,697.9 338.0,699.0 C341.3,700.1 341.8,703.5 340.0,705.5 C338.2,707.5 330.3,708.8 327.5,711.0 C324.7,713.2 324.2,718.3 323.0,719.0 C321.8,719.7 320.5,718.3 320.0,715.0 C319.5,711.7 317.0,701.7 320.0,699.0Z" fill="#f2ab9b"/>
<path d="M329.6,721.0 C333.7,716.6 346.3,708.4 353.0,705.5 C359.7,702.6 364.0,702.5 370.0,703.4 C376.0,704.3 384.5,707.3 389.0,711.0 C393.5,714.7 396.3,720.0 397.0,725.6 C397.7,731.2 395.8,740.1 393.0,744.7 C390.2,749.3 386.3,751.6 380.0,753.0 C373.7,754.4 362.7,754.4 355.0,753.0 C347.3,751.6 338.4,748.2 334.0,744.7 C329.6,741.2 329.3,736.0 328.6,732.0 C327.9,728.0 325.5,725.4 329.6,721.0Z" fill="#f2ab9b"/>
<path d="M384.7,687.5 C387.5,684.5 397.0,682.9 405.8,682.2 C414.6,681.5 428.9,682.0 437.6,683.3 C446.3,684.6 454.3,685.8 458.0,690.0 C461.7,694.2 463.4,704.5 460.0,708.7 C456.6,712.9 444.9,713.4 437.6,715.0 C430.3,716.6 422.8,718.5 416.4,718.2 C410.0,717.9 404.1,716.0 399.5,713.0 C394.9,710.0 391.5,704.2 389.0,700.0 C386.5,695.8 381.9,690.5 384.7,687.5Z" fill="#f2ab9b"/>
<path d="M397.4,736.2 C400.6,732.9 409.7,728.1 416.4,726.7 C423.1,725.3 431.6,726.1 437.6,727.7 C443.6,729.3 449.6,732.3 452.4,736.2 C455.2,740.1 455.9,747.1 454.5,751.0 C453.1,754.9 450.0,757.7 444.0,759.5 C438.0,761.3 425.6,762.0 418.5,761.6 C411.4,761.2 405.1,759.9 401.6,757.4 C398.1,754.9 398.1,750.3 397.4,746.8 C396.7,743.3 394.2,739.6 397.4,736.2Z" fill="#f2ab9b"/>
<path d="M319.0,753.0 C320.1,750.2 324.3,747.1 327.5,746.8 C330.7,746.5 336.1,748.5 338.0,751.0 C339.9,753.5 341.8,759.5 339.0,761.6 C336.2,763.7 324.3,765.1 321.0,763.7 C317.7,762.3 317.9,755.8 319.0,753.0Z" fill="#f2ab9b"/>
<path d="M450.0,713.0 C454.2,709.3 462.2,708.8 471.0,707.8 C479.8,706.8 495.9,705.8 503.0,706.7 C510.1,707.6 512.6,709.1 513.7,713.0 C514.8,716.9 513.0,725.4 509.5,730.0 C506.0,734.6 498.9,737.9 492.5,740.7 C486.1,743.5 478.1,746.3 471.0,747.0 C463.9,747.7 454.2,747.8 450.0,745.0 C445.8,742.2 446.0,735.3 446.0,730.0 C446.0,724.7 445.8,716.7 450.0,713.0Z" fill="#f2ab9b"/>
<path d="M535.0,706.7 C537.2,703.3 542.9,700.7 550.0,699.3 C557.1,697.9 570.1,696.6 577.5,698.2 C584.9,699.8 591.3,703.6 594.5,708.9 C597.7,714.2 598.0,725.4 596.6,730.0 C595.2,734.6 590.6,736.2 586.0,736.5 C581.4,736.8 574.7,733.8 569.0,732.0 C563.3,730.2 557.3,728.0 552.0,725.9 C546.7,723.8 539.8,722.7 537.0,719.5 C534.2,716.3 532.8,710.1 535.0,706.7Z" fill="#f2ab9b"/>
<path d="M501.0,734.4 C503.8,730.7 510.6,728.1 518.0,727.0 C525.4,725.9 537.8,726.1 545.6,728.0 C553.4,729.9 556.2,735.4 564.7,738.6 C573.2,741.8 591.3,744.2 596.6,747.0 C601.9,749.8 601.2,754.2 596.6,755.6 C592.0,757.0 577.9,754.9 569.0,755.6 C560.1,756.3 552.7,759.3 543.5,760.0 C534.3,760.7 520.8,761.8 513.7,760.0 C506.6,758.2 503.1,753.3 501.0,749.0 C498.9,744.7 498.2,738.1 501.0,734.4Z" fill="#f2ab9b"/>
<path d="M452.0,752.0 C454.2,748.3 463.8,749.0 468.0,750.0 C472.2,751.0 476.0,754.7 477.0,758.0 C478.0,761.3 477.7,767.7 474.0,770.0 C470.3,772.3 458.7,775.0 455.0,772.0 C451.3,769.0 449.8,755.7 452.0,752.0Z" fill="#f2ab9b"/>
<path d="M490.0,764.0 C493.0,761.3 504.3,759.7 510.0,760.0 C515.7,760.3 522.3,763.3 524.0,766.0 C525.7,768.7 525.3,774.3 520.0,776.0 C514.7,777.7 497.0,778.0 492.0,776.0 C487.0,774.0 487.0,766.7 490.0,764.0Z" fill="#f2ab9b"/>
<path d="M466.0,686.0 C468.7,685.3 474.0,688.2 478.0,690.0 C482.0,691.8 491.3,695.3 490.0,697.0 C488.7,698.7 474.7,700.5 470.0,700.0 C465.3,699.5 462.7,696.3 462.0,694.0 C461.3,691.7 463.3,686.7 466.0,686.0Z" fill="#f2ab9b"/>
<path d="M309.0,697.0 C312.5,695.8 323.2,692.3 330.0,690.0 C336.8,687.7 342.5,685.1 350.0,683.0 C357.5,680.9 366.7,678.8 375.0,677.5 C383.3,676.2 391.7,675.4 400.0,675.0 C408.3,674.6 418.3,674.8 425.0,675.0 C431.7,675.2 434.2,675.0 440.0,676.0 C445.8,677.0 453.0,678.8 460.0,681.0 C467.0,683.2 475.3,687.3 482.0,689.5 C488.7,691.7 494.8,692.8 500.0,694.0 C505.2,695.2 508.0,696.7 513.0,697.0 C518.0,697.3 523.0,696.3 530.0,696.0 C537.0,695.7 546.7,696.0 555.0,695.0 C563.3,694.0 571.2,690.5 580.0,690.0 C588.8,689.5 602.9,691.7 607.5,692.0 L607.5,762.0 L588.0,763.0 C582.7,763.3 566.7,763.8 556.0,765.0 C545.3,766.2 534.7,768.3 524.0,770.0 C513.3,771.7 500.8,774.0 492.0,775.0 C483.2,776.0 478.0,776.7 471.0,776.0 C464.0,775.3 455.7,772.7 450.0,771.0 C444.3,769.3 444.3,767.8 437.0,766.0 C429.7,764.2 416.5,761.8 406.0,760.5 C395.5,759.2 384.7,758.2 374.0,758.4 C363.3,758.6 352.8,760.5 342.0,761.6 C331.2,762.7 314.5,764.4 309.0,765.0 Z" fill="url(#dotP)" opacity="0.5"/>
<path d="M327.5,778.5 C329.3,774.6 334.6,771.9 342.3,770.0 C350.1,768.1 364.1,766.9 374.0,766.9 C383.9,766.9 395.2,767.4 401.6,770.0 C408.0,772.6 411.1,778.6 412.2,782.8 C413.3,787.0 412.6,792.8 408.0,795.4 C403.4,798.0 393.9,798.2 384.7,798.6 C375.5,799.0 361.7,798.5 352.9,797.6 C344.1,796.7 335.9,796.5 331.7,793.3 C327.5,790.1 325.7,782.4 327.5,778.5Z" fill="#55709f" opacity="0.9"/>
<path d="M426.0,778.0 C429.2,775.0 439.3,773.7 445.0,774.0 C450.7,774.3 455.8,777.3 460.0,780.0 C464.2,782.7 469.7,786.8 470.0,790.0 C470.3,793.2 467.0,797.3 462.0,799.0 C457.0,800.7 446.0,801.2 440.0,800.0 C434.0,798.8 428.3,795.7 426.0,792.0 C423.7,788.3 422.8,781.0 426.0,778.0Z" fill="#55709f" opacity="0.9"/>
<path d="M480.0,784.0 C483.3,780.7 500.0,779.3 510.0,778.0 C520.0,776.7 530.0,776.0 540.0,776.0 C550.0,776.0 563.3,776.3 570.0,778.0 C576.7,779.7 581.7,783.0 580.0,786.0 C578.3,789.0 570.0,793.7 560.0,796.0 C550.0,798.3 531.7,799.7 520.0,800.0 C508.3,800.3 496.7,800.7 490.0,798.0 C483.3,795.3 476.7,787.3 480.0,784.0Z" fill="#55709f" opacity="0.9"/>
<path d="M570.0,790.0 C573.3,787.7 584.3,786.0 590.0,786.0 C595.7,786.0 601.7,787.0 604.0,790.0 C606.3,793.0 607.2,801.3 604.0,804.0 C600.8,806.7 590.7,806.7 585.0,806.0 C579.3,805.3 572.5,802.7 570.0,800.0 C567.5,797.3 566.7,792.3 570.0,790.0Z" fill="#55709f" opacity="0.9"/>
<g fill="none" stroke="#4f7aa5" stroke-width="1" opacity="0.9"><path d="M325,825 c2,-5 10,-5 11,0 c1,5 -9,6 -11,0 Z"/><path d="M357,820 c4,-7 14,-6 20,-4 c6,2 12,-2 18,0 c3,3 -2,8 -8,7 c-6,-1 -10,3 -17,2 c-6,0 -15,1 -13,-5 Z"/><path d="M410,826 c1,-4 7,-4 8,0 c0,4 -7,5 -8,0 Z"/><path d="M432,822 c6,-6 12,-4 16,0 c4,4 9,2 12,-2"/><path d="M450,828 c5,-6 10,-6 14,-2 c4,4 8,4 12,0"/><path d="M495,818 c5,-5 13,-6 20,-3 c5,3 3,8 -4,7 c-5,-1 -10,2 -14,0 c-3,-1 -3,-2 -2,-4 Z"/><path d="M518,832 c4,-4 9,-3 13,-6 c4,-4 10,-8 16,-5"/><path d="M560,826 c6,-6 14,-8 22,-6 c6,2 12,4 12,0"/></g>
<path d="M420.0,609.0 C425.0,607.5 441.7,606.5 450.0,607.0 C458.3,607.5 466.7,609.8 470.0,612.0 C473.3,614.2 475.0,619.0 470.0,620.0 C465.0,621.0 448.3,618.7 440.0,618.0 C431.7,617.3 423.3,617.5 420.0,616.0 C416.7,614.5 415.0,610.5 420.0,609.0Z" fill="#f6bbab" opacity="0.9"/>
<path d="M387.0,625.0 C391.3,621.0 401.2,616.8 410.0,616.0 C418.8,615.2 433.0,617.3 440.0,620.0 C447.0,622.7 451.2,627.0 452.0,632.0 C452.8,637.0 450.3,645.8 445.0,650.0 C439.7,654.2 428.3,656.7 420.0,657.0 C411.7,657.3 401.0,654.8 395.0,652.0 C389.0,649.2 385.3,644.5 384.0,640.0 C382.7,635.5 382.7,629.0 387.0,625.0Z" fill="#f6bbab" opacity="0.9"/>
<path d="M350.0,665.0 C354.5,661.8 363.7,656.5 372.0,655.0 C380.3,653.5 393.7,653.8 400.0,656.0 C406.3,658.2 410.3,664.3 410.0,668.0 C409.7,671.7 406.3,676.0 398.0,678.0 C389.7,680.0 368.8,680.7 360.0,680.0 C351.2,679.3 346.7,676.5 345.0,674.0 C343.3,671.5 345.5,668.2 350.0,665.0Z" fill="#f6bbab" opacity="0.9"/>
<path d="M456.0,640.0 C461.0,635.0 472.7,631.0 480.0,630.0 C487.3,629.0 495.0,631.0 500.0,634.0 C505.0,637.0 509.2,642.0 510.0,648.0 C510.8,654.0 509.2,664.7 505.0,670.0 C500.8,675.3 492.5,678.7 485.0,680.0 C477.5,681.3 465.8,681.3 460.0,678.0 C454.2,674.7 450.7,666.3 450.0,660.0 C449.3,653.7 451.0,645.0 456.0,640.0Z" fill="#f6bbab" opacity="0.9"/>
<path d="M480.0,626.0 C481.7,622.3 493.3,618.7 500.0,618.0 C506.7,617.3 515.3,619.0 520.0,622.0 C524.7,625.0 529.7,633.0 528.0,636.0 C526.3,639.0 516.3,639.3 510.0,640.0 C503.7,640.7 495.0,642.3 490.0,640.0 C485.0,637.7 478.3,629.7 480.0,626.0Z" fill="#f6bbab" opacity="0.9"/>
<path d="M517.0,622.0 C521.2,617.2 535.3,616.3 545.0,616.0 C554.7,615.7 568.3,616.8 575.0,620.0 C581.7,623.2 585.8,630.0 585.0,635.0 C584.2,640.0 577.5,647.2 570.0,650.0 C562.5,652.8 548.3,652.8 540.0,652.0 C531.7,651.2 523.8,650.0 520.0,645.0 C516.2,640.0 512.8,626.8 517.0,622.0Z" fill="#f6bbab" opacity="0.9"/>
<path d="M545.0,660.0 C550.0,656.0 565.0,651.3 575.0,650.0 C585.0,648.7 598.8,649.5 605.0,652.0 C611.2,654.5 612.8,660.7 612.0,665.0 C611.2,669.3 607.8,675.5 600.0,678.0 C592.2,680.5 574.2,680.7 565.0,680.0 C555.8,679.3 548.3,677.3 545.0,674.0 C541.7,670.7 540.0,664.0 545.0,660.0Z" fill="#f6bbab" opacity="0.9"/>
<path d="M596.0,612.0 C599.7,608.7 613.3,607.3 620.0,608.0 C626.7,608.7 633.7,612.0 636.0,616.0 C638.3,620.0 637.5,628.7 634.0,632.0 C630.5,635.3 621.0,636.7 615.0,636.0 C609.0,635.3 601.2,632.0 598.0,628.0 C594.8,624.0 592.3,615.3 596.0,612.0Z" fill="#f6bbab" opacity="0.9"/>
<path d="M500.0,680.0 C503.0,676.7 513.3,671.3 520.0,670.0 C526.7,668.7 535.8,669.3 540.0,672.0 C544.2,674.7 548.3,682.7 545.0,686.0 C541.7,689.3 527.2,691.3 520.0,692.0 C512.8,692.7 505.3,692.0 502.0,690.0 C498.7,688.0 497.0,683.3 500.0,680.0Z" fill="#f6bbab" opacity="0.9"/>
<g fill="none" stroke="#4b78a6" stroke-width="0.9" opacity="0.8"><ellipse cx="619" cy="820" rx="3.5" ry="2.5" transform="rotate(-50 619 820)"/><ellipse cx="630" cy="804" rx="4" ry="2.5" transform="rotate(-50 630 804)"/><ellipse cx="643" cy="788" rx="4" ry="2.5" transform="rotate(-50 643 788)"/><ellipse cx="653" cy="772" rx="3.5" ry="2.2" transform="rotate(-50 653 772)"/></g>
<circle cx="397.5" cy="620" r="3" fill="url(#gd)"/>
<circle cx="423.75" cy="618.75" r="1.5" fill="#4a9fdc"/>
<circle cx="407.5" cy="626" r="1.3" fill="#4a9fdc"/>
<circle cx="443.75" cy="625" r="3" fill="url(#gd)"/>
<circle cx="468.75" cy="623.75" r="3" fill="url(#gd)"/>
<circle cx="461" cy="626" r="1.3" fill="#4a9fdc"/>
<circle cx="465" cy="630" r="2.5" fill="url(#gd)"/>
<circle cx="487.5" cy="628.75" r="3.5" fill="url(#gd)"/>
<circle cx="493.75" cy="613.75" r="4.5" fill="url(#gd)"/>
<circle cx="417.5" cy="636" r="3.2" fill="url(#gd)"/>
<circle cx="430" cy="633" r="1.5" fill="#4a9fdc"/>
<circle cx="407.5" cy="634" r="1.2" fill="#4a9fdc"/>
<circle cx="393.75" cy="632.5" r="1.2" fill="#4a9fdc"/>
<circle cx="383.75" cy="632.5" r="1.2" fill="#4a9fdc"/>
<circle cx="396.25" cy="641.25" r="3.8" fill="url(#gd)"/>
<circle cx="402.5" cy="648" r="1.5" fill="#4a9fdc"/>
<circle cx="418.75" cy="645" r="1.2" fill="#4a9fdc"/>
<circle cx="445" cy="637" r="1.2" fill="#4a9fdc"/>
<circle cx="460" cy="641.25" r="3" fill="url(#gd)"/>
<circle cx="437.5" cy="645" r="1.2" fill="#4a9fdc"/>
<circle cx="390" cy="653" r="3" fill="url(#gd)"/>
<circle cx="431.25" cy="653.75" r="3" fill="url(#gd)"/>
<circle cx="450" cy="653.75" r="1.2" fill="#4a9fdc"/>
<circle cx="461.25" cy="652" r="3" fill="url(#gd)"/>
<circle cx="472.5" cy="648" r="1.2" fill="#4a9fdc"/>
<circle cx="492.5" cy="651.25" r="3" fill="url(#gd)"/>
<circle cx="485" cy="643.75" r="1.2" fill="#4a9fdc"/>
<circle cx="475" cy="661.25" r="1.2" fill="#4a9fdc"/>
<circle cx="492.5" cy="667.5" r="1.5" fill="#4a9fdc"/>
<circle cx="546" cy="620" r="3.5" fill="url(#gd)"/>
<circle cx="606" cy="609.5" r="2.5" fill="url(#gd)"/>
<circle cx="629.5" cy="611" r="2.8" fill="url(#gd)"/>
<circle cx="505" cy="623.75" r="1.8" fill="#4a9fdc"/>
<circle cx="498" cy="633" r="1.5" fill="#4a9fdc"/>
<circle cx="535.5" cy="630" r="2.8" fill="url(#gd)"/>
<circle cx="568.75" cy="627" r="1.2" fill="#4a9fdc"/>
<circle cx="582.5" cy="630.75" r="3.2" fill="url(#gd)"/>
<circle cx="599.5" cy="624.5" r="2.8" fill="url(#gd)"/>
<circle cx="618" cy="627" r="3.2" fill="url(#gd)"/>
<circle cx="635" cy="625" r="2.8" fill="url(#gd)"/>
<circle cx="648" cy="630" r="1.5" fill="#4a9fdc"/>
<circle cx="605.75" cy="635" r="1.2" fill="#4a9fdc"/>
<circle cx="637.5" cy="637" r="1.2" fill="#4a9fdc"/>
<circle cx="621" cy="640" r="1.2" fill="#4a9fdc"/>
<circle cx="514" cy="640" r="3.8" fill="url(#gd)"/>
<circle cx="527" cy="641" r="1.2" fill="#4a9fdc"/>
<circle cx="538.75" cy="641.75" r="1.2" fill="#4a9fdc"/>
<circle cx="552.5" cy="635" r="1.2" fill="#4a9fdc"/>
<circle cx="562.5" cy="645" r="3.2" fill="url(#gd)"/>
<circle cx="575" cy="641.75" r="1.2" fill="#4a9fdc"/>
<circle cx="589.5" cy="645.5" r="1.2" fill="#4a9fdc"/>
<circle cx="601" cy="646.75" r="2.8" fill="url(#gd)"/>
<circle cx="612.5" cy="645" r="1.2" fill="#4a9fdc"/>
<circle cx="485.5" cy="643" r="1.5" fill="#4a9fdc"/>
<circle cx="506" cy="653" r="1.2" fill="#4a9fdc"/>
<circle cx="541" cy="649.5" r="4" fill="url(#gd)"/>
<circle cx="520.75" cy="655" r="2.8" fill="url(#gd)"/>
<circle cx="546" cy="656.75" r="1.2" fill="#4a9fdc"/>
<circle cx="563.75" cy="654" r="1.2" fill="#4a9fdc"/>
<circle cx="582" cy="653.75" r="1.2" fill="#4a9fdc"/>
<circle cx="616" cy="656" r="1.2" fill="#4a9fdc"/>
<circle cx="533.75" cy="662" r="3" fill="url(#gd)"/>
<circle cx="575.75" cy="662" r="3" fill="url(#gd)"/>
<circle cx="594.5" cy="662" r="1.5" fill="#4a9fdc"/>
<circle cx="605.75" cy="660" r="2.8" fill="url(#gd)"/>
<circle cx="510" cy="666" r="1.2" fill="#4a9fdc"/>
<circle cx="377.2" cy="696" r="1.8" fill="#4a9fdc"/>
<circle cx="433.3" cy="696" r="2.8" fill="url(#gd)"/>
<circle cx="336" cy="714.6" r="1.8" fill="#4a9fdc"/>
<circle cx="403.7" cy="710.8" r="2.8" fill="url(#gd)"/>
<circle cx="442.2" cy="724.6" r="3.8" fill="url(#gd)"/>
<circle cx="391.4" cy="751" r="2.8" fill="url(#gd)"/>
<circle cx="350.8" cy="756.3" r="1.8" fill="#4a9fdc"/>
<circle cx="520" cy="710" r="2.6" fill="url(#gd)"/>
<circle cx="560" cy="703" r="2.6" fill="url(#gd)"/>
<circle cx="597.7" cy="708.5" r="2" fill="#4a9fdc"/>
<circle cx="553" cy="730.8" r="2" fill="#4a9fdc"/>
<circle cx="592" cy="731.8" r="3.6" fill="url(#gd)"/>
<circle cx="489" cy="745.4" r="2.4" fill="url(#gd)"/>
<circle cx="463.2" cy="760.5" r="3.6" fill="url(#gd)"/>
<path d="M417.5,604.5 C422.9,604.6 440.4,604.2 450.0,605.0 C459.6,605.8 465.8,607.6 475.0,609.0 C484.2,610.4 495.8,612.2 505.0,613.5 C514.2,614.8 521.7,616.4 530.0,617.0 C538.3,617.6 546.7,617.8 555.0,617.0 C563.3,616.2 571.7,614.1 580.0,612.5 C588.3,610.9 596.7,608.6 605.0,607.5 C613.3,606.4 621.7,605.2 630.0,606.0 C638.3,606.8 648.7,610.2 655.0,612.5 C661.3,614.8 665.2,617.9 668.0,620.0 C670.8,622.1 671.3,624.2 672.0,625.0" fill="none" stroke="#b87a6e" stroke-width="0.8" opacity="0.7"/>
<path d="M607.5,692.0 C602.9,691.7 588.8,689.5 580.0,690.0 C571.2,690.5 563.3,694.0 555.0,695.0 C546.7,696.0 537.0,695.7 530.0,696.0 C523.0,696.3 518.0,697.3 513.0,697.0 C508.0,696.7 505.2,695.2 500.0,694.0 C494.8,692.8 488.7,691.7 482.0,689.5 C475.3,687.3 467.0,683.2 460.0,681.0 C453.0,678.8 445.8,677.0 440.0,676.0 C434.2,675.0 431.7,675.2 425.0,675.0 C418.3,674.8 408.3,674.6 400.0,675.0 C391.7,675.4 383.3,676.2 375.0,677.5 C366.7,678.8 357.5,680.9 350.0,683.0 C342.5,685.1 336.8,687.7 330.0,690.0 C323.2,692.3 312.5,695.8 309.0,697.0" fill="none" stroke="#6e5552" stroke-width="1"/>
<path d="M672.0,625.0 C670.7,626.8 666.8,632.5 664.0,636.0 C661.2,639.5 658.2,642.5 655.0,646.0 C651.8,649.5 648.3,653.4 645.0,657.0 C641.7,660.6 639.2,663.3 635.0,667.5 C630.8,671.7 624.6,677.9 620.0,682.0 C615.4,686.1 609.6,690.3 607.5,692.0" fill="none" stroke="#6e5552" stroke-width="1"/>
<path d="M309.0,697.0 C311.7,694.6 318.2,688.7 325.0,682.5 C331.8,676.3 341.7,667.5 350.0,660.0 C358.3,652.5 366.7,644.6 375.0,637.5 C383.3,630.4 392.9,623.0 400.0,617.5 C407.1,612.0 414.6,606.7 417.5,604.5" fill="none" stroke="#6e5552" stroke-width="1"/>
<path d="M607.5,692 L607.5,838" stroke="#5a6a80" stroke-width="0.8" fill="none"/>
<path d="M309,697 L309,833" stroke="#7a7a80" stroke-width="0.8" fill="none"/>
<g stroke="#7a7a7a" stroke-width="1" stroke-dasharray="3.75,2.3" fill="none">
<path d="M667,398.4 L751,398.4"/>
<path d="M668,498.2 L687,498.2"/>
<path d="M668,650.3 L751,650.3"/>
<path d="M668,752 L751,752"/>
</g>
<g stroke="#333" stroke-width="1.2" fill="none">
<path d="M235.6,392.5 L302,393 L378,451"/>
<path d="M235.6,565.5 L372,566.5"/>
<path d="M234.6,761.6 L300,761.6 L377.5,703.5"/>
</g>
<g fill="#333">
<circle cx="235.6" cy="392.5" r="3.4"/>
<circle cx="235.6" cy="565.5" r="3.4"/>
<circle cx="234.6" cy="761.6" r="3.4"/>
</g>
</svg>
</body></html>
